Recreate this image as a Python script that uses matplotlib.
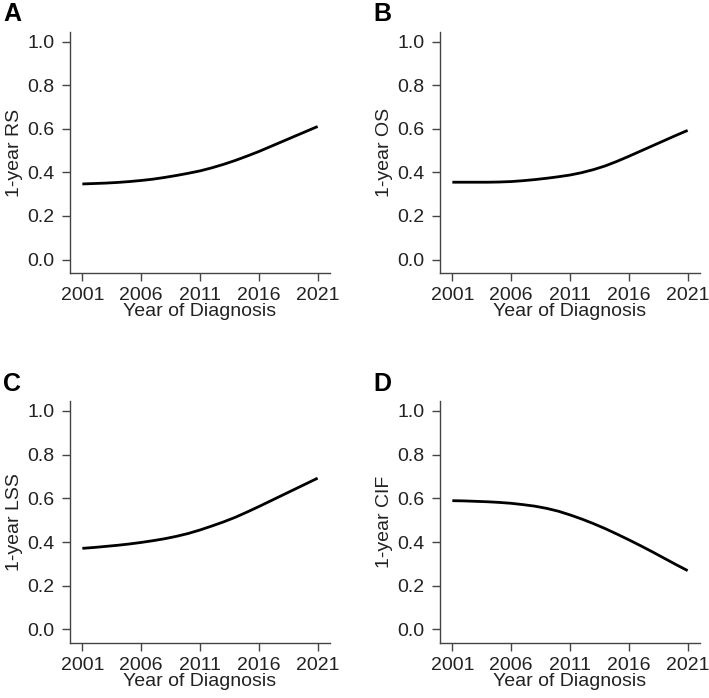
import matplotlib.pyplot as plt

plt.rcParams['font.family'] = ['Liberation Sans', 'DejaVu Sans']

years = list(range(2001, 2022))

rs = [0.347, 0.349, 0.351, 0.354, 0.358, 0.363, 0.369, 0.377, 0.386, 0.396, 0.407,
      0.421, 0.437, 0.455, 0.475, 0.496, 0.519, 0.542, 0.565, 0.588, 0.611]
os_ = [0.355, 0.355, 0.355, 0.355, 0.356, 0.358, 0.362, 0.367, 0.373, 0.380, 0.388,
       0.399, 0.413, 0.430, 0.451, 0.474, 0.498, 0.522, 0.546, 0.570, 0.593]
lss = [0.371, 0.375, 0.380, 0.385, 0.391, 0.398, 0.406, 0.415, 0.426, 0.439, 0.455,
       0.473, 0.492, 0.513, 0.537, 0.562, 0.588, 0.614, 0.640, 0.666, 0.692]
cif = [0.589, 0.588, 0.586, 0.584, 0.581, 0.577, 0.571, 0.564, 0.554, 0.541, 0.524,
       0.505, 0.484, 0.461, 0.436, 0.410, 0.383, 0.355, 0.326, 0.297, 0.269]

panel_letters = ["A", "B", "C", "D"]
ylabels = ["1-year RS", "1-year OS", "1-year LSS", "1-year CIF"]
series = [rs, os_, lss, cif]
xticks = [2001, 2006, 2011, 2016, 2021]
yticks = [0.0, 0.2, 0.4, 0.6, 0.8, 1.0]

W, H = 709, 698
fig = plt.figure(figsize=(W / 100, H / 100), dpi=100)

# pixel boxes: left, top, right, bottom
boxes = [(70, 32, 330, 273), (440, 32, 700, 273),
         (70, 401, 330, 643), (440, 401, 700, 643)]
letter_pos = [(3, 14), (373, 14), (3, 384), (373, 384)]

spine_col = "#444444"
text_col = "#222222"
for i in range(4):
    l, t, r, b = boxes[i]
    ax = fig.add_axes([l / W, 1 - b / H, (r - l) / W, (b - t) / H])
    ax.plot(years, series[i], color="black", linewidth=2.0, solid_capstyle="butt")
    ax.set_xlim(1999.95, 2022.05)
    ax.set_ylim(-0.062, 1.045)
    ax.set_xticks(xticks)
    ax.set_yticks(yticks)
    ax.set_yticklabels([f"{v:.1f}" for v in yticks])
    for s in ["top", "right"]:
        ax.spines[s].set_visible(False)
    for s in ["left", "bottom"]:
        ax.spines[s].set_color(spine_col)
        ax.spines[s].set_linewidth(1.0)
    ax.tick_params(direction="out", length=6, width=1.0, color=spine_col,
                   labelsize=14, labelcolor=text_col)
    ax.tick_params(axis="x", pad=4)
    ax.tick_params(axis="y", pad=5)
    ax.set_xlabel("Year of Diagnosis", fontsize=14, color=text_col, labelpad=-1)
    ax.set_ylabel(ylabels[i], fontsize=14, color=text_col, labelpad=3)
    fig.text(letter_pos[i][0] / W, 1 - letter_pos[i][1] / H, panel_letters[i],
             fontsize=18, fontweight="bold", ha="left", va="center")

fig.savefig("out.png", dpi=100)
